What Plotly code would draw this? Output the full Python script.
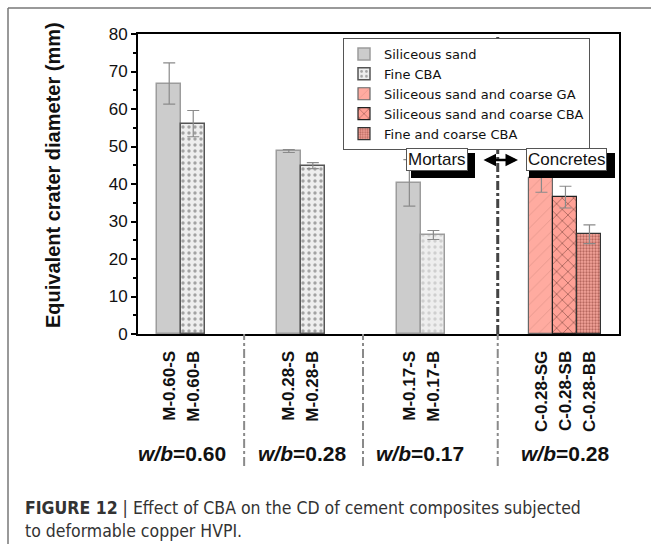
import plotly.graph_objects as go

# ---- data ----
labels_S = ["M-0.60-S", "M-0.28-S", "M-0.17-S"]
values_S = [66.8, 48.8, 40.3]
errors_S = [5.5, 0.4, 6.2]

labels_B = ["M-0.60-B", "M-0.28-B", "M-0.17-B"]
values_B = [56.1, 44.9, 26.4]
errors_B = [3.5, 0.8, 1.2]

labels_C = ["C-0.28-SG", "C-0.28-SB", "C-0.28-BB"]
values_C = [41.6, 36.5, 26.6]
errors_C = [3.8, 2.9, 2.5]

group_labels = ["0.60", "0.28", "0.17", "0.28"]
series_names = ["Siliceous sand", "Fine CBA", "Siliceous sand and coarse GA",
                "Siliceous sand and coarse CBA", "Fine and coarse CBA"]

# ---- layout positions (axis units) ----
pos_S = [1.3, 6.28, 11.3]
pos_B = [2.3, 7.28, 12.3]
pos_C = [16.8, 17.8, 18.8]
group_centers_px = [182, 302, 420, 565]
sep_pos = [4.42, 9.37]
main_sep = 14.98

W, H = 651, 544
L, R, T, B = 138, 32, 34, 210
PW, PH = W - L - R, H - T - B

def px(x):
    return (x - L) / PW

def py(y):
    return (H - B - y) / PH

FONT = "Liberation Sans, Arial, sans-serif"
NARROW = "Liberation Sans Narrow, Arial Narrow, DejaVu Sans Condensed, sans-serif"

err_style = dict(type="data", color="#8a8a8a", thickness=1.2, width=6)

fig = go.Figure()
fig.add_trace(go.Bar(
    x=pos_S, y=values_S, name=series_names[0], width=1,
    error_y=dict(array=errors_S, **err_style),
    marker=dict(color="#cccccc", line=dict(color="#9c9c9c", width=1.5)),
))
fig.add_trace(go.Bar(
    x=pos_B, y=values_B, name=series_names[1], width=1,
    error_y=dict(array=errors_B, **err_style),
    marker=dict(color="#eeeeee", line=dict(color=["#555555", "#555555", "#9c9c9c"], width=1.5),
                pattern=dict(shape=".", fgcolor=["#555555", "#555555", "#b0b0b0"],
                             bgcolor="#eeeeee", size=6, solidity=0.25)),
))
fig.add_trace(go.Bar(
    x=[pos_C[0]], y=[values_C[0]], name=series_names[2], width=1,
    error_y=dict(array=[errors_C[0]], **err_style),
    marker=dict(color="#ffaba0", line=dict(color="#666666", width=1.2),
                pattern=dict(shape="/", fgcolor="#c07a70", bgcolor="#ffaba0", size=9, solidity=0.08)),
))
fig.add_trace(go.Bar(
    x=[pos_C[1]], y=[values_C[1]], name=series_names[3], width=1,
    error_y=dict(array=[errors_C[1]], **err_style),
    marker=dict(color="#ffa196", line=dict(color="#222222", width=1.2),
                pattern=dict(shape="x", fgcolor="#3a1512", bgcolor="#ffa196", size=8, solidity=0.18)),
))
fig.add_trace(go.Bar(
    x=[pos_C[2]], y=[values_C[2]], name=series_names[4], width=1,
    error_y=dict(array=[errors_C[2]], **err_style),
    marker=dict(color="#f4a49a", line=dict(color="#333333", width=1.2),
                pattern=dict(shape=".", fgcolor="#7a2c24", bgcolor="#f4a49a", size=3, solidity=0.45)),
))

shapes = []
for s in sep_pos:
    shapes.append(dict(type="line", xref="x", yref="paper", x0=s, x1=s, y0=py(466), y1=0,
                       line=dict(color="#8a8a8a", width=2, dash="dashdot")))
shapes.append(dict(type="line", xref="x", yref="paper", x0=main_sep, x1=main_sep, y0=0, y1=1,
                   line=dict(color="#444444", width=3, dash="dashdot"), layer="below"))
shapes.append(dict(type="line", xref="x", yref="paper", x0=main_sep, x1=main_sep, y0=py(466), y1=0,
                   line=dict(color="#8a8a8a", width=2, dash="dashdot")))
for (x0, x1) in [(411, 475), (529, 615)]:
    shapes.append(dict(type="rect", xref="paper", yref="paper", x0=px(x0), x1=px(x1),
                       y0=py(178), y1=py(153), fillcolor="black", line=dict(width=0), layer="above"))
shapes.append(dict(type="line", xref="paper", yref="paper", x0=px(8), x1=px(8), y0=py(8), y1=py(544),
                   line=dict(color="#777777", width=1.5)))
shapes.append(dict(type="line", xref="paper", yref="paper", x0=px(8), x1=px(651), y0=py(8), y1=py(8),
                   line=dict(color="#777777", width=1.5)))

annotations = []
annotations.append(dict(xref="paper", yref="paper", x=px(53), y=py(175), showarrow=False,
                        text="<b>Equivalent crater diameter (mm)</b>", textangle=-90,
                        font=dict(family=FONT, size=20, color="#111111"),
                        xanchor="center", yanchor="middle"))
for g, cx in zip(group_labels, group_centers_px):
    annotations.append(dict(xref="paper", yref="paper", x=px(cx), y=py(453), showarrow=False,
                            text="<b><i>w/b</i>=" + g + "</b>",
                            font=dict(family=FONT, size=21, color="#111111"),
                            xanchor="center", yanchor="middle"))
for txt, cx in [("Mortars", 437), ("Concretes", 566)]:
    annotations.append(dict(xref="paper", yref="paper", x=px(cx), y=py(159.5), showarrow=False,
                            text=txt, font=dict(family=FONT, size=17, color="#111111"),
                            bgcolor="white", bordercolor="#555555", borderwidth=1, borderpad=1,
                            xanchor="center", yanchor="middle"))
annotations.append(dict(xref="paper", yref="paper", x=px(518), y=py(160), ax=-36, ay=0,
                        axref="pixel", ayref="pixel", text="", showarrow=True,
                        arrowhead=2, arrowside="end+start", arrowsize=1, arrowwidth=2.5,
                        arrowcolor="black", standoff=0, startstandoff=0))
annotations.append(dict(xref="paper", yref="paper", x=px(23), y=py(508), showarrow=False,
                        text="<b>FIGURE 12</b> | Effect of CBA on the CD of cement composites subjected",
                        font=dict(family=NARROW, size=17.5, color="#333333"),
                        xanchor="left", yanchor="middle"))
annotations.append(dict(xref="paper", yref="paper", x=px(23), y=py(531), showarrow=False,
                        text="to deformable copper HVPI.",
                        font=dict(family=NARROW, size=17.5, color="#333333"),
                        xanchor="left", yanchor="middle"))

fig.update_layout(
    width=W, height=H,
    margin=dict(l=L, r=R, t=T, b=B, autoexpand=False),
    paper_bgcolor="white", plot_bgcolor="white",
    barmode="overlay", bargap=0,
    font=dict(family=FONT, color="#111111"),
    showlegend=True,
    legend=dict(x=px(343), y=py(38), xanchor="left", yanchor="top",
                bgcolor="white", bordercolor="#555555", borderwidth=1,
                font=dict(family="DejaVu Sans, sans-serif", size=13, color="#111111"),
                tracegroupgap=0, itemwidth=30),
    shapes=shapes, annotations=annotations,
    xaxis=dict(range=[0, 20.03], showgrid=False, zeroline=False,
               showline=True, linecolor="black", linewidth=2, mirror=True,
               tickmode="array", tickvals=pos_S + pos_B + pos_C,
               ticktext=labels_S + labels_B + labels_C,
               tickangle=-90, ticks="outside", ticklen=8, tickcolor="rgba(0,0,0,0)",
               tickfont=dict(family=FONT, size=17, color="#111111", weight="bold")),
    yaxis=dict(range=[0, 80], dtick=10, showgrid=False, zeroline=False,
               showline=True, linecolor="black", linewidth=2, mirror=True,
               ticks="outside", ticklen=5, tickwidth=1.5, tickcolor="black",
               minor=dict(dtick=5, ticks="outside", ticklen=3, tickwidth=1.5, tickcolor="black"),
               tickfont=dict(family=FONT, size=17, color="#111111")),
)

fig.write_html("out.html")
